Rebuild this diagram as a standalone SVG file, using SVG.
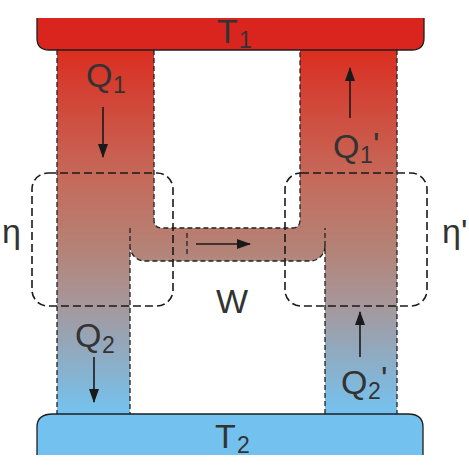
<svg xmlns="http://www.w3.org/2000/svg" width="469" height="471" viewBox="0 0 469 471">
  <defs>
    <linearGradient id="heat" gradientUnits="userSpaceOnUse" x1="0" y1="50" x2="0" y2="414">
      <stop offset="0" stop-color="#da2e21"/>
      <stop offset="0.35" stop-color="#c56a5a"/>
      <stop offset="0.55" stop-color="#b48377"/>
      <stop offset="0.7" stop-color="#a6979b"/>
      <stop offset="1" stop-color="#74c3f0"/>
    </linearGradient>
    <marker id="ah" markerUnits="userSpaceOnUse" markerWidth="14" markerHeight="10" refX="13" refY="5" orient="auto">
      <path d="M0,0 L14,5 L0,10 Z" fill="#1a1a1a"/>
    </marker>
    <style>
      .edge { fill: none; stroke: #222; stroke-width: 1.3; stroke-dasharray: 5 3; }
      .box { fill: none; stroke: #1a1a1a; stroke-width: 1.6; stroke-dasharray: 8 4; }
      .res { stroke: #1e1e1e; stroke-width: 1.3; }
      .lbl { font-family: "Liberation Sans", Arial, sans-serif; font-size: 34px; fill: #333; }
      .sub { font-size: 23px; }
      .arr { stroke: #1a1a1a; stroke-width: 1.6; fill: none; marker-end: url(#ah); }
    </style>
  </defs>
  <rect width="469" height="471" fill="#fff"/>

  <g id="engine">
    <path d="M57,50 H154 V220 Q154,228 162,228 H292 Q300,228 300,220 V50 H397 V414 H325 V246 A15,15 0 0 1 310,261 H145 A15,15 0 0 1 130,246 V414 H57 Z" fill="url(#heat)"/>
    <path class="edge" d="M57,50 V414 M154,50 V220 Q154,228 162,228 H292 Q300,228 300,220 V50 M397,50 V414 M325,414 V228 M325,246 A15,15 0 0 1 310,261 H145 A15,15 0 0 1 130,246 M130,228 V414 M187,233 V256"/>
  </g>

  <g id="hot-reservoir">
    <path class="res" d="M37,18 V38 Q37,50 49,50 H412 Q424,50 424,38 V18" fill="#d9251d"/>
    <text class="lbl" x="217" y="43">T</text>
    <text class="lbl sub" x="239" y="48">1</text>
  </g>

  <g id="cold-reservoir">
    <path class="res" d="M37,455 V427 Q37,414 53,414 H408 Q423,414 423,427 V455" fill="#72c1ee"/>
    <text class="lbl" x="215" y="448">T</text>
    <text class="lbl sub" x="237" y="453">2</text>
  </g>

  <g id="eta-box">
    <rect class="box" x="32" y="173" width="141" height="133" rx="16"/>
    <text class="lbl" x="2" y="243">η</text>
  </g>

  <g id="eta-prime-box">
    <rect class="box" x="285" y="173" width="142" height="133" rx="16"/>
    <text class="lbl" x="442" y="243">η'</text>
  </g>

  <g id="labels">
    <text class="lbl" x="86" y="87">Q</text>
    <text class="lbl sub" x="113" y="93">1</text>
    <text class="lbl" x="333" y="158">Q</text>
    <text class="lbl sub" x="360" y="163">1</text>
    <text class="lbl" x="373" y="156" font-size="28">'</text>
    <text class="lbl" x="75" y="347">Q</text>
    <text class="lbl sub" x="102" y="353">2</text>
    <text class="lbl" x="341" y="394">Q</text>
    <text class="lbl sub" x="368" y="399">2</text>
    <text class="lbl" x="381" y="390" font-size="28">'</text>
    <text class="lbl" x="216" y="313">W</text>
  </g>

  <g id="connectors">
    <line class="arr" x1="103" y1="107" x2="103" y2="157"/>
    <line class="arr" x1="350" y1="118" x2="350" y2="68"/>
    <line class="arr" x1="94" y1="357" x2="94" y2="402"/>
    <line class="arr" x1="360" y1="357" x2="360" y2="312"/>
    <line class="arr" x1="196" y1="244" x2="250" y2="244"/>
  </g>
</svg>
